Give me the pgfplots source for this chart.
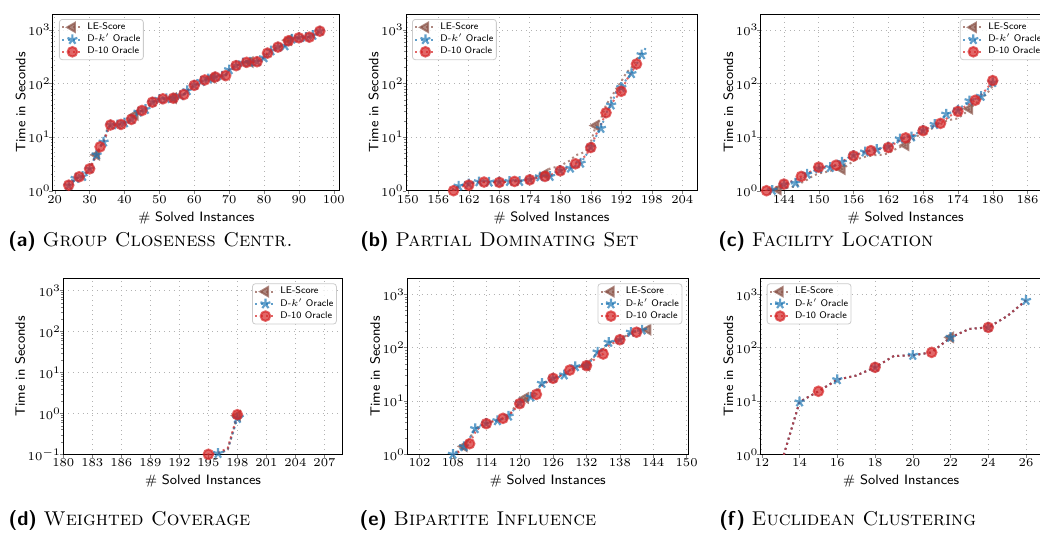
\RequirePackage{fix-cm}
\documentclass[border=0pt]{standalone}
\usepackage{pgfplots}
\pgfplotsset{compat=1.18}
\definecolor{tbrown}{HTML}{8C564B}
\definecolor{tblue}{HTML}{1F77B4}
\definecolor{tred}{HTML}{D62728}
\pgfplotsset{
  legend image code/.code={\draw[#1,mark repeat=2,mark phase=2] plot coordinates {(0pt,0pt) (5pt,0pt) (10pt,0pt)};},
  every axis/.append style={
  scale only axis, ymode=log, ymin=1, ymax=2000,
  axis line style={line width=0.5pt},
  tick align=outside, tick pos=left,
  major tick length=1.75pt, minor tick length=1pt,
  grid=major, grid style={dotted, gray!60, line width=0.35pt},
  tick label style={font=\fontsize{6}{7}\selectfont, inner sep=0.5pt},
  yticklabel style={xshift=1.3pt},
  label style={font=\sffamily\fontsize{6.8}{8}\selectfont},
  ylabel style={yshift=-2.8pt},
  xlabel={\# Solved Instances}, ylabel={Time in Seconds},
  legend cell align=left,
  legend style={font=\sffamily\fontsize{4.8}{5.8}\selectfont, draw=gray!40, rounded corners=1.5pt, fill=white, fill opacity=0.8, text opacity=1, inner xsep=1pt, inner ysep=1pt, row sep=0pt, nodes={inner sep=0.5pt}, column sep=1.5pt},
 },
}
\tikzset{
 sle/.style={tbrown, opacity=0.7, line width=1pt, dash pattern=on 1pt off 1.65pt, mark=triangle*, mark size=2.6pt, mark options={solid, rotate=90, fill=tbrown}},
 sdk/.style={tblue, opacity=0.7, line width=1pt, dash pattern=on 1pt off 1.65pt, mark=star, mark size=2.6pt, mark options={solid, line width=1.1pt, fill=tblue}},
 sdt/.style={tred, opacity=0.7, line width=1pt, dash pattern=on 1pt off 1.65pt, mark=*, mark size=2.4pt, mark options={solid, fill=tred, draw=tred}},
}
\begin{document}
\begin{tikzpicture}
% (a)
\begin{axis}[legend style={at={(0,1)}, anchor=north west, xshift=3pt, yshift=-2.5pt}, at={(26.5pt,170.65pt)}, anchor=south west, width=143.35pt, height=88.35pt,
  ytick={1,10,100,1000}, xmin=19.5, xmax=101.7, xtick={20,30,...,100}]
\addplot[sle, mark repeat=11, mark phase=9] table[row sep=\\]{x y\\24 1.25\\25 1.45\\26 1.65\\27 1.82\\28 1.85\\29 2.1\\30 2.56\\31 3.6\\32 4.67\\33 6.6\\34 8.1\\35 14\\36 16.9\\37 17.0\\38 17.1\\39 17.3\\40 18.5\\41 20\\42 21.5\\43 26\\44 29.4\\45 31.5\\46 33\\47 40\\48 45\\49 48\\50 51\\51 52\\52 52.5\\53 53\\54 53.5\\55 56\\56 60\\57 62.6\\58 74\\59 85\\60 93\\61 100\\62 110\\63 117\\64 125\\65 129\\66 133\\67 136\\68 139\\69 141\\70 182\\71 205\\72 217\\73 232\\74 245\\75 250\\76 253\\77 255\\78 257\\79 290\\80 305\\81 372\\82 410\\83 450\\84 482\\85 500\\86 510\\87 650\\88 690\\89 700\\90 718\\91 725\\92 732\\93 739\\94 800\\95 880\\96 955\\};
\addplot[sdk, mark repeat=2, mark phase=1] table[row sep=\\]{x y\\24 1.25\\25 1.6\\26 1.7\\27 1.82\\28 1.85\\29 2.3\\30 2.56\\31 3.6\\32 4.67\\33 6.6\\34 8.1\\35 13\\36 16.9\\37 17.0\\38 17.1\\39 17.3\\40 18.5\\41 20\\42 21.5\\43 27\\44 29.4\\45 31.5\\46 33\\47 38\\48 45\\49 48\\50 51\\51 52\\52 52.5\\53 54\\54 53.5\\55 56\\56 60\\57 62.6\\58 74\\59 82\\60 93\\61 100\\62 110\\63 117\\64 123\\65 129\\66 133\\67 136\\68 139\\69 141\\70 182\\71 200\\72 217\\73 232\\74 245\\75 250\\76 253\\77 255\\78 257\\79 285\\80 305\\81 372\\82 410\\83 450\\84 482\\85 495\\86 510\\87 631\\88 680\\89 700\\90 718\\91 725\\92 732\\93 739\\94 800\\95 860\\96 955\\};
\addplot[sdt, mark repeat=3, mark phase=1] table[row sep=\\]{x y\\24 1.27\\25 1.45\\26 1.65\\27 1.82\\28 1.85\\29 2.1\\30 2.56\\31 3.4\\32 4.67\\33 6.6\\34 8.1\\35 12\\36 16.9\\37 17.0\\38 17.1\\39 17.3\\40 18.5\\41 20\\42 21.5\\43 26\\44 29.4\\45 31.5\\46 33\\47 40\\48 45\\49 48\\50 51\\51 52\\52 52.5\\53 53\\54 53.5\\55 56\\56 60\\57 62.6\\58 74\\59 85\\60 93\\61 100\\62 110\\63 117\\64 123\\65 129\\66 133\\67 136\\68 139\\69 141\\70 182\\71 205\\72 217\\73 232\\74 245\\75 250\\76 253\\77 255\\78 257\\79 290\\80 305\\81 372\\82 410\\83 450\\84 482\\85 500\\86 510\\87 631\\88 680\\89 700\\90 718\\91 725\\92 732\\93 739\\94 800\\95 880\\96 955\\};
\legend{LE-Score, D-$k'$ Oracle, D-10 Oracle}
\end{axis}
% (b)
\begin{axis}[legend style={at={(0,1)}, anchor=north west, xshift=3pt, yshift=-2.5pt}, at={(203pt,170.65pt)}, anchor=south west, width=145.5pt, height=88.35pt,
  ytick={1,10,100,1000}, xmin=149.65, xmax=206.9, xtick={150,156,...,204}]
\addplot[sle, mark repeat=10, mark phase=19] table[row sep=\\]{x y\\158 0.9\\159 1.05\\160 1.2\\161 1.3\\162 1.35\\163 1.42\\164 1.45\\165 1.46\\166 1.46\\167 1.45\\168 1.45\\169 1.47\\170 1.5\\171 1.52\\172 1.53\\173 1.58\\174 1.65\\175 1.8\\176 1.95\\177 2.05\\178 2.6\\179 2.75\\180 2.9\\181 3.3\\182 3.7\\183 4.6\\184 4.9\\185 5.5\\186 8.0\\187 16.5\\188 22\\189 40\\190 55\\191 80\\192 110\\193 160\\194 200\\195 280\\196 400\\};
\addplot[sdk, mark repeat=2, mark phase=2] table[row sep=\\]{x y\\157 0.8\\158 0.95\\159 1.1\\160 1.22\\161 1.3\\162 1.35\\163 1.42\\164 1.47\\165 1.46\\166 1.45\\167 1.45\\168 1.46\\169 1.47\\170 1.49\\171 1.49\\172 1.49\\173 1.55\\174 1.62\\175 1.72\\176 1.82\\177 1.84\\178 1.85\\179 2.2\\180 2.4\\181 2.5\\182 2.64\\183 2.9\\184 3.27\\185 4.5\\186 6.5\\187 10.2\\188 14.6\\189 28\\190 40\\191 70\\192 85\\193 120\\194 154\\195 230\\196 347\\197 496\\};
\addplot[sdt, mark repeat=3, mark phase=1] table[row sep=\\]{x y\\157 0.8\\158 0.9\\159 1.0\\160 1.15\\161 1.22\\162 1.27\\163 1.38\\164 1.43\\165 1.45\\166 1.45\\167 1.44\\168 1.43\\169 1.45\\170 1.48\\171 1.49\\172 1.52\\173 1.56\\174 1.6\\175 1.7\\176 1.78\\177 1.85\\178 1.95\\179 2.15\\180 2.35\\181 2.6\\182 2.9\\183 3.18\\184 3.8\\185 4.5\\186 6.4\\187 11\\188 17\\189 28.6\\190 42\\191 55\\192 72\\193 115\\194 160\\195 233\\};
\legend{LE-Score, D-$k'$ Oracle, D-10 Oracle}
\end{axis}
% (c)
\begin{axis}[legend style={at={(1,1)}, anchor=north east, xshift=-3pt, yshift=-2.5pt}, at={(380.35pt,170.65pt)}, anchor=south west, width=145pt, height=88.35pt,
  ytick={1,10,100,1000}, xmin=140, xmax=190, xtick={144,150,...,186}]
\addplot[sle, mark repeat=11, mark phase=1] table[row sep=\\]{x y\\141 0.85\\142 0.95\\143 1.05\\144 1.12\\145 1.16\\146 1.2\\147 1.4\\148 1.6\\149 1.9\\150 2.1\\151 2.2\\152 2.35\\153 2.45\\154 2.53\\155 3.0\\156 3.6\\157 4.0\\158 4.3\\159 4.5\\160 4.65\\161 4.7\\162 5.0\\163 5.8\\164 6.5\\165 7.06\\166 8.5\\167 10.5\\168 12.1\\169 13.5\\170 15.5\\171 17.5\\172 20\\173 21.5\\174 22.4\\175 27\\176 33.9\\177 42\\178 52\\179 65\\180 90\\};
\addplot[sdk, mark repeat=2, mark phase=1] table[row sep=\\]{x y\\140 0.9\\141 0.97\\142 1.02\\143 1.15\\144 1.3\\145 1.35\\146 1.39\\147 1.7\\148 2.04\\149 2.3\\150 2.6\\151 2.65\\152 2.72\\153 3.05\\154 3.41\\155 4.1\\156 4.6\\157 5.0\\158 5.3\\159 5.6\\160 5.9\\161 6.3\\162 6.6\\163 8.0\\164 9.3\\165 9.8\\166 10.1\\167 12\\168 13.5\\169 15.5\\170 17.3\\171 21\\172 27\\173 30\\174 32\\175 40\\176 48\\177 52\\178 58\\179 75\\180 105\\};
\addplot[sdt, mark repeat=3, mark phase=1] table[row sep=\\]{x y\\140 0.9\\141 1.0\\142 1.1\\143 1.2\\144 1.33\\145 1.45\\146 1.6\\147 1.85\\148 2.1\\149 2.4\\150 2.75\\151 2.8\\152 2.9\\153 3.0\\154 3.5\\155 4.0\\156 4.47\\157 4.9\\158 5.3\\159 5.6\\160 5.8\\161 6.1\\162 6.4\\163 7.5\\164 8.6\\165 9.7\\166 10.5\\167 11.8\\168 13.2\\169 14.8\\170 16.5\\171 18.1\\172 22\\173 26.5\\174 30.3\\175 36\\176 42\\177 49\\178 62\\179 80\\180 114\\};
\legend{LE-Score, D-$k'$ Oracle, D-10 Oracle}
\end{axis}
% (d)
\begin{axis}[legend style={at={(1,1)}, anchor=north east, xshift=-3pt, yshift=-2.5pt}, at={(31.65pt,38.85pt)}, anchor=south west, width=139.75pt, height=88pt,
  ymin=0.1, ytick={0.1,1,10,100,1000}, xmin=180, xmax=208.9, xtick={180,183,...,207}]
\addplot[sle, mark repeat=11, mark phase=3] table[row sep=\\]{x y\\196 0.1\\197 0.13\\198 0.88\\};
\addplot[sdk, mark repeat=2, mark phase=1] table[row sep=\\]{x y\\195 0.085\\196 0.105\\197 0.13\\198 0.75\\199 0.95\\};
\addplot[sdt, mark repeat=3, mark phase=1] table[row sep=\\]{x y\\194 0.07\\195 0.1\\196 0.11\\197 0.14\\198 0.93\\};
\legend{LE-Score, D-$k'$ Oracle, D-10 Oracle}
\end{axis}
% (e)
\begin{axis}[legend style={at={(1,1)}, anchor=north east, xshift=-3pt, yshift=-2.5pt}, at={(203.65pt,38.85pt)}, anchor=south west, width=140.5pt, height=88pt,
  ytick={1,10,100,1000}, xmin=99.8, xmax=150.3, xtick={102,108,...,150}]
\addplot[sle, mark repeat=11, mark phase=2] table[row sep=\\]{x y\\108 0.95\\109 1.15\\110 1.41\\111 2.0\\112 3.0\\113 3.5\\114 3.8\\115 4.1\\116 4.3\\117 4.7\\118 5.2\\119 7.5\\120 9.5\\121 11.4\\122 12\\123 15\\124 21\\125 24\\126 26.6\\127 29\\128 31\\129 38\\130 43\\131 45\\132 46\\133 62\\134 83\\135 95\\136 125\\137 132\\138 140\\139 165\\140 190\\141 200\\142 212\\143 218\\};
\addplot[sdk, mark repeat=2, mark phase=1] table[row sep=\\]{x y\\107 0.8\\108 1.0\\109 1.2\\110 1.39\\111 2.0\\112 3.03\\113 3.5\\114 3.8\\115 4.1\\116 4.27\\117 4.7\\118 5.2\\119 7\\120 9.2\\121 11\\122 11.9\\123 16\\124 21.4\\125 24\\126 26.6\\127 28\\128 30.8\\129 38\\130 44\\131 45\\132 46\\133 60\\134 83\\135 100\\136 126\\137 132\\138 140\\139 170\\140 195\\141 205\\142 214\\};
\addplot[sdt, mark repeat=3, mark phase=3] table[row sep=\\]{x y\\108 0.95\\109 1.1\\110 1.3\\111 1.58\\112 2.6\\113 3.4\\114 3.76\\115 4.1\\116 4.4\\117 4.73\\118 5.3\\119 6.8\\120 8.9\\121 10.5\\122 12\\123 13.3\\124 19\\125 23\\126 26.6\\127 29\\128 33\\129 38\\130 42\\131 44\\132 45.9\\133 55\\134 68\\135 76\\136 110\\137 125\\138 141\\139 160\\140 180\\141 195\\};
\legend{LE-Score, D-$k'$ Oracle, D-10 Oracle}
\end{axis}
% (f)
\begin{axis}[legend style={at={(0,1)}, anchor=north west, xshift=3pt, yshift=-2.5pt}, at={(380.35pt,38.85pt)}, anchor=south west, width=140.5pt, height=88pt,
  ytick={1,10,100,1000}, xmin=11.94, xmax=26.83, xtick={12,14,...,26}]
\addplot[sle, mark repeat=11, mark phase=9] table[row sep=\\]{x y\\13 0.63\\14 9.6\\15 15.2\\16 25.1\\17 30\\18 42.8\\19 70\\20 71.8\\21 81.6\\22 156\\23 225\\24 240\\25 390\\26 770\\};
\addplot[sdk, mark repeat=2, mark phase=1] table[row sep=\\]{x y\\13 0.63\\14 9.6\\15 15.2\\16 25.1\\17 30\\18 42.8\\19 70\\20 71.8\\21 81.6\\22 156\\23 225\\24 240\\25 390\\26 770\\};
\addplot[sdt, mark repeat=3, mark phase=2] table[row sep=\\]{x y\\13 0.63\\14 9.6\\15 15.2\\16 25.1\\17 30\\18 42.8\\19 70\\20 71.8\\21 81.6\\22 156\\23 225\\24 240\\25 390\\26 770\\};
\legend{LE-Score, D-$k'$ Oracle, D-10 Oracle}
\end{axis}
% captions
\node[anchor=base west, font=\fontsize{10}{12}\selectfont, inner sep=0pt] at (4pt,142.75pt) {\textsf{\textbf{(a)}} \textsc{Group Closeness Centr.}};
\node[anchor=base west, font=\fontsize{10}{12}\selectfont, inner sep=0pt] at (180pt,142.75pt) {\textsf{\textbf{(b)}} \textsc{Partial Dominating Set}};
\node[anchor=base west, font=\fontsize{10}{12}\selectfont, inner sep=0pt] at (359pt,142.75pt) {\textsf{\textbf{(c)}} \textsc{Facility Location}};
\node[anchor=base west, font=\fontsize{10}{12}\selectfont, inner sep=0pt] at (4.15pt,3.5pt) {\textsf{\textbf{(d)}} \textsc{Weighted Coverage}};
\node[anchor=base west, font=\fontsize{10}{12}\selectfont, inner sep=0pt] at (179.65pt,3.5pt) {\textsf{\textbf{(e)}} \textsc{Bipartite Influence}};
\node[anchor=base west, font=\fontsize{10}{12}\selectfont, inner sep=0pt] at (359.5pt,3.5pt) {\textsf{\textbf{(f)}} \textsc{Euclidean Clustering}};
\pgfresetboundingbox
\path[use as bounding box] (0,0) rectangle (520pt,266pt);
\end{tikzpicture}
\end{document}
